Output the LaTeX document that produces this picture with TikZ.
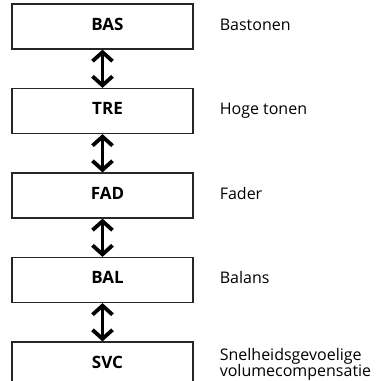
\documentclass[tikz,border=0pt]{standalone}
\usepackage{fontspec}
\setmainfont{Open Sans}
\usetikzlibrary{positioning,arrows.meta}

\begin{document}
\begin{tikzpicture}[x=1pt,y=1pt,node distance=38.3pt,
    every node/.style={font=\fontsize{16}{16}\selectfont},
    box/.style={draw=black!85,line width=1.2pt,minimum width=181pt,minimum height=45pt,
        inner sep=0pt,font=\fontsize{17}{17}\selectfont\bfseries},
    boxtext/.style={inner sep=0pt,text height=12pt,text depth=5pt,xshift=5pt,
        font=\fontsize{17}{17}\selectfont\bfseries},
    note/.style={inner sep=0pt,text height=12pt,text depth=5pt},
    updown/.style={line width=3.8pt,
        {Straight Barb[length=9pt,width=20pt,line width=3.8pt]}-{Straight Barb[length=9pt,width=20pt,line width=3.8pt]}}]
    \useasboundingbox (0,0) rectangle (376,-381);

    \node[box] (bas) at (102.5,-26.5) {};
    \node[box,below=of bas] (tre) {};
    \node[box,below=of tre] (fad) {};
    \node[box,below=of fad] (bal) {};
    \node[box,below=of bal] (svc) {};

    \node[boxtext] (bastext) at (bas) {BAS};
    \node[boxtext] (tretext) at (tre) {TRE};
    \node[boxtext] (fadtext) at (fad) {FAD};
    \node[boxtext] (baltext) at (bal) {BAL};
    \node[boxtext] (svctext) at (svc) {SVC};

    \draw[updown] (bas) -- (tre);
    \draw[updown] (tre) -- (fad);
    \draw[updown] (fad) -- (bal);
    \draw[updown] (bal) -- (svc);

    \node[note,right=26pt of bas] (basnote) {Bastonen};
    \node[note,right=26pt of tre] (trenote) {Hoge tonen};
    \node[note,right=26pt of fad] (fadnote) {Fader};
    \node[note,right=26pt of bal] (balnote) {Balans};
    \node[inner sep=0pt,align=left,right=26pt of svc] (svcnote) {Snelheidsgevoelige\\volumecompensatie};
\end{tikzpicture}
\end{document}
